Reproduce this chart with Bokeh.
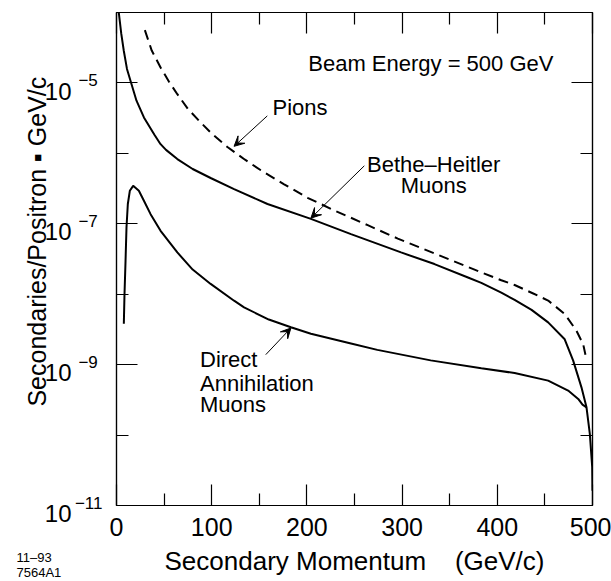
from bokeh.plotting import figure
from bokeh.models import (Range1d, LinearAxis, LogAxis, LogScale, FixedTicker, Label, Arrow,
                          VeeHead, Title)
from bokeh.embed import file_html
from bokeh.resources import INLINE

FONT = "Liberation Sans"

# ---------------- data ----------------
# Bethe-Heitler muons (solid, upper)
bh_p = [2.4, 5.0, 7.7, 11.0, 15.4, 21.0, 28.8, 40.0, 46.3, 52.0, 63.9, 80.0, 98.9, 123.5, 158.6,
        204.2, 246.3, 298.9, 334.0, 369.2, 383.2, 404.2, 418.2, 436.0, 453.4, 470.8, 479.7,
        488.4, 493.7, 497.2, 499.7, 500.0]
bh_y = [1.0e-4, 5.0e-5, 2.84e-5, 1.58e-5, 1.0e-5, 5.6e-6, 3.24e-6, 1.82e-6, 1.35e-6, 1.12e-6,
        8.3e-7, 6.0e-7, 4.47e-7, 3.10e-7, 1.91e-7, 1.175e-7, 7.14e-8, 3.92e-8, 2.68e-8, 1.73e-8,
        1.45e-8, 1.05e-8, 8.3e-9, 6.0e-9, 3.98e-9, 2.29e-9, 1.14e-9, 4.76e-10, 2.48e-10,
        1.04e-10, 3.49e-11, 1.62e-11]

# Pions (dashed)
pi_p = [29.8, 37.0, 46.3, 55.0, 63.9, 75.0, 88.4, 100.0, 116.5, 135.0, 151.6, 176.1, 200.7,
        228.7, 263.9, 295.5, 334.0, 383.2, 404.2, 418.2, 436.0, 453.4, 470.8, 483.2, 490.2, 492.6]
pi_y = [5.62e-5, 2.88e-5, 1.66e-5, 1.05e-5, 6.92e-6, 4.27e-6, 2.75e-6, 1.91e-6, 1.23e-6,
        8.13e-7, 5.75e-7, 3.63e-7, 2.34e-7, 1.55e-7, 9.55e-8, 6.17e-8, 3.80e-8, 2.04e-8,
        1.58e-8, 1.35e-8, 1.05e-8, 8.13e-9, 5.25e-9, 3.02e-9, 1.95e-9, 1.38e-9]

# Direct annihilation muons (solid, lower)
da_p = [7.7, 8.4, 9.5, 10.5, 11.9, 14.0, 17.5, 23.5, 28.8, 35.8, 46.3, 63.9, 80.0, 98.9,
        123.5, 134.0, 160.0, 183.2, 204.2, 246.3, 274.0, 330.0, 383.2, 418.2, 453.4, 474.4,
        485.0, 489.5, 493.7]
da_y = [3.80e-9, 1.0e-8, 2.99e-8, 8.85e-8, 1.91e-7, 2.94e-7, 3.46e-7, 2.94e-7, 2.12e-7,
        1.37e-7, 7.96e-8, 3.92e-8, 2.24e-8, 1.40e-8, 8.09e-9, 6.50e-9, 4.37e-9, 3.39e-9,
        2.75e-9, 2.0e-9, 1.62e-9, 1.15e-9, 8.9e-10, 7.6e-10, 5.93e-10, 4.28e-10, 3.26e-10,
        2.7e-10, 2.48e-10]

x_major = [0, 100, 200, 300, 400, 500]
x_minor = [50, 150, 250, 350, 450]
y_major = [1e-11, 1e-9, 1e-7, 1e-5]
y_minor = [1e-10, 1e-8, 1e-6]
y_base_labels = ["\n10", "\n10", "\n10", "\n10"]
y_sup_labels = ["\u221211", "\u22129\u2008", "\u22127\u2008", "\u22125\u2008"]

# ---------------- figure ----------------
p = figure(frame_width=476, frame_height=493,
           x_range=Range1d(0, 500), y_range=Range1d(1e-11, 1e-4),
           y_axis_type="log", output_backend="svg", toolbar_location=None,
           min_border_left=116, min_border_right=19, min_border_top=12, min_border_bottom=76)
p.xgrid.visible = False
p.ygrid.visible = False
p.outline_line_color = "black"
p.outline_line_width = 1.2
p.background_fill_color = "white"
p.border_fill_color = "white"


def tick_style(ax):
    ax.axis_line_color = "black"
    ax.axis_line_width = 1.2
    ax.major_tick_line_color = "black"
    ax.minor_tick_line_color = "black"
    ax.major_tick_line_width = 1.2
    ax.minor_tick_line_width = 1.2
    ax.major_tick_in = 21
    ax.major_tick_out = 0
    ax.minor_tick_in = 12
    ax.minor_tick_out = 0


def hide_labels(ax):
    ax.major_label_text_font_size = "1px"
    ax.major_label_text_color = None
    ax.major_label_standoff = 0


def label_only(ax):
    ax.axis_line_color = None
    ax.major_tick_line_color = None
    ax.minor_tick_line_color = None
    ax.major_tick_in = 0
    ax.major_tick_out = 0
    ax.minor_tick_in = 0
    ax.minor_tick_out = 0


# bottom axis: ticks, numbers, title
xb = p.xaxis[0]
xb.ticker = FixedTicker(ticks=x_major, minor_ticks=x_minor)
tick_style(xb)
xb.major_label_text_font = FONT
xb.major_label_text_font_size = "25px"
xb.major_label_text_color = "black"
xb.major_label_standoff = 12
xb.axis_label = "Secondary Momentum\u00a0\u00a0\u00a0\u00a0(GeV/c)"
xb.axis_label_text_font = FONT
xb.axis_label_text_font_size = "26px"
xb.axis_label_text_font_style = "normal"
xb.axis_label_text_color = "black"
xb.axis_label_standoff = 7

# top axis: ticks only
xtop = LinearAxis(ticker=FixedTicker(ticks=x_major, minor_ticks=x_minor))
tick_style(xtop)
hide_labels(xtop)
p.add_layout(xtop, "above")

# left axis A: ticks only
ya = p.yaxis[0]
ya.ticker = FixedTicker(ticks=y_major, minor_ticks=y_minor)
tick_style(ya)
hide_labels(ya)

# left axis B: exponents (raised slightly through a shifted range)
k = 10 ** (2.2 / 70.43)
p.extra_y_ranges = {"sup": Range1d(1e-11 / k, 1e-4 / k)}
p.extra_y_scales = {"sup": LogScale()}
yb = LogAxis(y_range_name="sup", ticker=FixedTicker(ticks=y_major),
             major_label_overrides=dict(zip(y_major, y_sup_labels)))
label_only(yb)
yb.major_label_text_font = FONT
yb.major_label_text_font_size = "17px"
yb.major_label_text_color = "black"
yb.major_label_standoff = 14
p.add_layout(yb, "left")

# left axis C: "10" bases (second line, dropped below the tick) + axis title
yc = LogAxis(ticker=FixedTicker(ticks=y_major),
             major_label_overrides=dict(zip(y_major, y_base_labels)))
label_only(yc)
yc.major_label_text_font = FONT
yc.major_label_text_font_size = "24px"
yc.major_label_text_line_height = 0.6
yc.major_label_text_color = "black"
yc.major_label_standoff = 0
yc.axis_label = "\u00a0" * 5 + "Secondaries/Positron \u25aa GeV/c"
yc.axis_label_text_font = FONT
yc.axis_label_text_font_size = "25px"
yc.axis_label_text_font_style = "normal"
yc.axis_label_text_color = "black"
yc.axis_label_standoff = -9
p.add_layout(yc, "left")

# right axis: ticks only
yr = LogAxis(ticker=FixedTicker(ticks=y_major, minor_ticks=y_minor))
tick_style(yr)
hide_labels(yr)
p.add_layout(yr, "right")

# figure id in the lower-left corner
p.add_layout(Title(text="11\u201393\n7564A1", align="left", offset=-100, standoff=-58,
                   vertical_align="top", text_font=FONT, text_font_size="13px",
                   text_font_style="normal", text_color="black", text_line_height=1.0),
             "below")

# ---------------- curves ----------------
p.line(bh_p, bh_y, line_color="black", line_width=2)
p.line(pi_p, pi_y, line_color="black", line_width=2, line_dash="10 6")
p.line(da_p, da_y, line_color="black", line_width=2)


# ---------------- annotations ----------------
def note(x, y, text, align="left", size="22px"):
    p.add_layout(Label(x=x, y=y, text=text, text_align=align, text_baseline="middle",
                       text_font=FONT, text_font_size=size, text_color="black"))


note(201.4, 10 ** -4.721, "Beam Energy = 500 GeV")
note(163.9, 10 ** -5.350, "Pions")
note(333.2, 10 ** -6.155, "Bethe\u2013Heitler", "center")
note(333.2, 10 ** -6.462, "Muons", "center")
note(87.7, 10 ** -8.924, "Direct")
note(87.7, 10 ** -9.265, "Annihilation")
note(87.7, 10 ** -9.563, "Muons")


def arrow(x0, y0, x1, y1):
    p.add_layout(Arrow(end=VeeHead(size=10, fill_color="black", line_color="black", line_width=1),
                       x_start=x0, y_start=y0, x_end=x1, y_end=y1,
                       line_color="black", line_width=1))


arrow(158.4, 10 ** -5.468, 123.5, 10 ** -5.90)
arrow(260.3, 10 ** -6.177, 204.2, 10 ** -6.92)
arrow(156.8, 10 ** -8.858, 183.2, 10 ** -8.48)

open("out.html", "w").write(file_html(p, INLINE))
